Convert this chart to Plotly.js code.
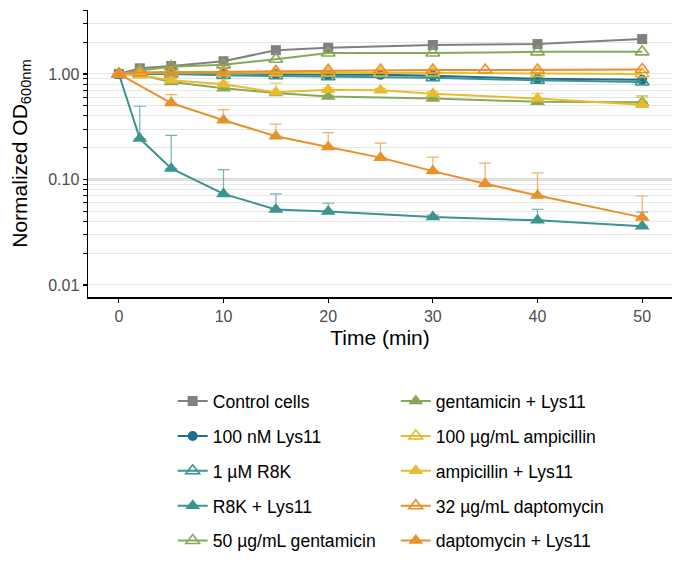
<!DOCTYPE html>
<html><head><meta charset="utf-8">
<script src="https://cdn.plot.ly/plotly-3.0.1.min.js"></script>
<style>html,body{margin:0;padding:0;background:#fff}#chart{width:685px;height:579px}</style>
</head><body><div id="chart"></div>
<script>
// ---- data ----
const seriesNames = ["Control cells","100 nM Lys11","1 µM R8K","R8K + Lys11","50 µg/mL gentamicin",
  "gentamicin + Lys11","100 µg/mL ampicillin","ampicillin + Lys11","32 µg/mL daptomycin","daptomycin + Lys11"];

const tControl = [0,2,5,10,15,20,30,40,50];
const vControl = [1.0,1.13,1.19,1.32,1.68,1.77,1.88,1.92,2.14];

const tLys11 = [0,2,5,10,15,20,25,30,40,50];
const vLys11 = [1.0,1.02,1.03,1.02,1.0,0.98,0.98,0.96,0.9,0.88];

const tR8K = [0,2,5,10,15,20,30,40,50];
const vR8K = [1.0,1.0,1.0,0.97,0.96,0.94,0.92,0.87,0.84];

const tR8KLys = [0,2,5,10,15,20,30,40,50];
const vR8KLys = [1.0,0.244,0.127,0.073,0.052,0.0498,0.044,0.041,0.036];
const eR8KLys = [0,0.25,0.135,0.051,0.021,0.0097,0.002,0.011,0.013];

const tGent = [0,2,5,10,15,20,30,40,50];
const vGent = [1.0,1.08,1.17,1.22,1.38,1.58,1.58,1.62,1.62];

const tGentLys = [0,2,5,10,15,20,30,40,50];
const vGentLys = [1.0,0.98,0.84,0.73,0.66,0.61,0.585,0.545,0.54];
const eGentLys = [0,0,0.02,0.02,0.02,0.02,0.02,0.02,0.08];

const tAmp = [0,2,5,10,15,20,25,30,40,50];
const vAmp = [1.0,1.02,1.03,1.03,1.03,1.02,1.02,1.02,1.01,1.0];

const tAmpLys = [0,2,5,10,15,20,25,30,40,50];
const vAmpLys = [1.0,0.97,0.87,0.80,0.67,0.71,0.70,0.65,0.585,0.51];
const eAmpLys = [0,0,0.03,0.04,0.15,0.03,0.03,0.03,0.07,0.09];

const tDapto = [0,2,5,10,15,20,25,30,35,40,50];
const vDapto = [1.0,1.03,1.04,1.05,1.06,1.08,1.09,1.09,1.09,1.09,1.10];

const tDaptoLys = [0,5,10,15,20,25,30,35,40,50];
const vDaptoLys = [1.0,0.53,0.364,0.257,0.203,0.161,0.120,0.091,0.0706,0.0437];
const eDaptoLys = [0,0.107,0.096,0.078,0.075,0.06,0.043,0.052,0.045,0.026];

const yTickVals = [0.01,0.1,1];
const yTickText = ["0.01","0.10","1.00"];
const xTickVals = [0,10,20,30,40,50];

// ---- styles ----
const C = {grey:"#808080", blue:"#1f6d8c", teal:"#3a9490", green:"#88a95a", yellow:"#e9bc30", orange:"#e9902a"};
function rgba(hex,a){const n=parseInt(hex.slice(1),16);return `rgba(${n>>16},${(n>>8)&255},${n&255},${a})`;}

function tr(i,x,y,color,symbol,size,err,legend){
  const t = {type:"scatter",mode:"lines+markers",x:x,y:y,name:seriesNames[i],
    legend:legend, legendgroup:"g"+i,
    line:{color:color,width:2},
    marker:{color:color,symbol:symbol,size:size,line:{color:color,width:symbol.indexOf("open")>=0?1.6:0}}};
  if(err){t.error_y={type:"data",symmetric:false,array:err,arrayminus:err.map(()=>0),color:rgba(color,0.7),thickness:1.2,width:6};}
  return t;
}

const data = [
  tr(0,tControl,vControl,C.grey,"square",10,null,"legend"),
  tr(1,tLys11,vLys11,C.blue,"circle",10,null,"legend"),
  tr(2,tR8K,vR8K,C.teal,"triangle-up-open",12,null,"legend"),
  tr(3,tR8KLys,vR8KLys,C.teal,"triangle-up",13,eR8KLys,"legend"),
  tr(4,tGent,vGent,C.green,"triangle-up-open",12,null,"legend"),
  tr(5,tGentLys,vGentLys,C.green,"triangle-up",13,eGentLys,"legend2"),
  tr(6,tAmp,vAmp,C.yellow,"triangle-up-open",12,null,"legend2"),
  tr(7,tAmpLys,vAmpLys,C.yellow,"triangle-up",13,eAmpLys,"legend2"),
  tr(8,tDapto,vDapto,C.orange,"triangle-up-open",12,null,"legend2"),
  tr(9,tDaptoLys,vDaptoLys,C.orange,"triangle-up",13,eDaptoLys,"legend2")
];

const minorVals = [];
[0.01,0.1,1].forEach(d=>{for(let k=2;k<=9;k++){const v=+(d*k).toPrecision(3); if(v<4.2) minorVals.push(v);}});

const FONT = "Liberation Sans, Arial, sans-serif";
const legendBase = {orientation:"v",font:{family:FONT,size:17.6,color:"#000"},bgcolor:"rgba(0,0,0,0)",
  tracegroupgap:9,xanchor:"left",yanchor:"top",y:-0.3,itemwidth:30};

const layout = {
  width:685,height:579,
  margin:{l:88,r:13,t:10,b:282},
  paper_bgcolor:"#fff",plot_bgcolor:"#fff",
  font:{family:FONT},
  showlegend:true,
  xaxis:{range:[-2.95,52.85],tickmode:"array",tickvals:xTickVals,
    showgrid:false,zeroline:false,showline:true,linecolor:"#000",linewidth:1.5,
    ticks:"outside",ticklen:4,tickcolor:"#000",tickwidth:1.2,
    tickfont:{family:FONT,size:16,color:"#4d4d4d"},
    title:{text:"Time (min)",font:{family:FONT,size:21,color:"#000"},standoff:6}},
  yaxis:{type:"log",range:[-2.114,0.606],tickmode:"array",tickvals:yTickVals,ticktext:yTickText,
    showgrid:true,gridcolor:"#e6e6e6",gridwidth:1,zeroline:false,showline:true,linecolor:"#000",linewidth:1.5,
    ticks:"outside",ticklen:4,tickcolor:"#000",tickwidth:1.2,
    tickfont:{family:FONT,size:16,color:"#4d4d4d"},
    minor:{tickmode:"array",tickvals:minorVals,ticks:"outside",ticklen:4,tickcolor:"#000",tickwidth:1,
      showgrid:true,gridcolor:"#e6e6e6",gridwidth:1},
    title:{text:"Normalized OD<sub>600nm</sub>",font:{family:FONT,size:21,color:"#000"},standoff:15}},
  legend:Object.assign({},legendBase,{x:0.145}),
  legend2:Object.assign({},legendBase,{x:0.527}),
  shapes:[{type:"line",xref:"paper",yref:"y",x0:0,x1:1,y0:0.1,y1:0.1,layer:"below",
    line:{color:"#d9d9d9",width:3}}]
};

Plotly.newPlot("chart",data,layout,{displayModeBar:false,staticPlot:true});
</script></body></html>
